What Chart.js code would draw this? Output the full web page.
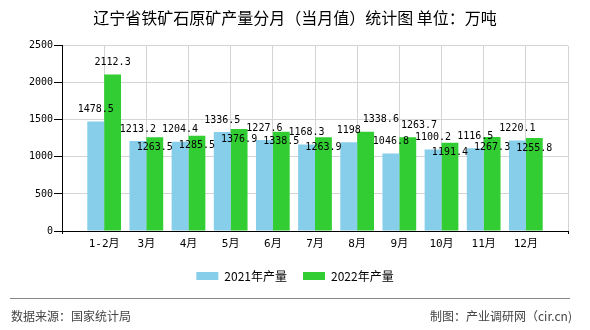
<!DOCTYPE html>
<html>
<head>
<meta charset="utf-8">
<script src="https://cdn.jsdelivr.net/npm/chart.js@4/dist/chart.umd.min.js"></script>
<style>
  html, body { margin: 0; padding: 0; background: #fff; }
  #wrap { width: 590px; height: 330px; }
</style>
</head>
<body>
<div id="wrap"><canvas id="chart" width="590" height="330"></canvas></div>
<script>
// ===== DATA =====
const categories = ['1-2月', '3月', '4月', '5月', '6月', '7月', '8月', '9月', '10月', '11月', '12月'];
const prod2021 = [1478.5, 1213.2, 1204.4, 1336.5, 1227.6, 1168.3, 1198, 1046.8, 1100.2, 1116.5, 1220.1];
const prod2022 = [2112.3, 1263.5, 1285.5, 1376.9, 1338.5, 1263.9, 1338.6, 1263.7, 1191.4, 1267.3, 1255.8];
const yTicks = [0, 500, 1000, 1500, 2000, 2500];

const titleText = '辽宁省铁矿石原矿产量分月（当月值）统计图 单位：万吨';
const sourceText = '数据来源：国家统计局';
const creditText = '制图：产业调研网（cir.cn)';

// ===== STYLE =====
const blue = '#87ceeb';
const green = '#32cd32';
const gridColor = '#d4d4d4';
const monoFont = "'DejaVu Sans Mono', 'Noto Sans CJK SC', monospace";
const cjkFont = "'Noto Sans CJK SC', sans-serif";

// the axis has an empty slot on each side of the months
const labels = ['', ...categories, ''];
const pad = arr => [null, ...arr, null];

// ===== VALUE LABELS =====
// 2021 labels sit above the bar. A 2022 label that would hit another label
// drops inside its bar, or else slides right past the label it hits.
const valueLabels = {
  id: 'valueLabels',
  afterDatasetsDraw(chart) {
    const ctx = chart.ctx;
    ctx.save();
    ctx.font = '10px ' + monoFont;
    ctx.fillStyle = '#000';
    ctx.textAlign = 'center';
    ctx.textBaseline = 'middle';
    const m0 = chart.getDatasetMeta(0).data;
    const m1 = chart.getDatasetMeta(1).data;
    const placed = [];
    const hits = (x, y, w, gap) => placed.find(p =>
      Math.abs(p.x - x) < (p.w + w) / 2 && Math.abs(p.y - y) < gap);

    categories.forEach((c, i) => {
      const b0 = m0[i + 1];
      const t0 = String(prod2021[i]);
      const w0 = ctx.measureText(t0).width;
      ctx.fillText(t0, b0.x, b0.y - 12);
      placed.push({ x: b0.x, y: b0.y - 12, w: w0 });
    });
    categories.forEach((c, i) => {
      const b1 = m1[i + 1];
      const t1 = String(prod2022[i]);
      const w1 = ctx.measureText(t1).width;
      let x1 = b1.x, y1 = b1.y - 12;
      const first = hits(x1, y1, w1, 12);
      if (first) {
        if (!hits(x1, b1.y + 10, w1, 8)) {
          y1 = b1.y + 10;
        } else {
          x1 = first.x + (first.w + w1) / 2 + 2;
        }
      }
      ctx.fillText(t1, x1, y1);
      placed.push({ x: x1, y: y1, w: w1 });
    });
    ctx.restore();
  }
};

// ===== FOOTER =====
const footer = {
  id: 'footer',
  afterDraw(chart) {
    const ctx = chart.ctx;
    ctx.save();
    ctx.strokeStyle = '#888';
    ctx.lineWidth = 1;
    ctx.beginPath();
    ctx.moveTo(10, 298.5);
    ctx.lineTo(570, 298.5);
    ctx.stroke();
    ctx.font = '12px ' + cjkFont;
    ctx.fillStyle = '#444';
    ctx.textBaseline = 'middle';
    ctx.textAlign = 'left';
    ctx.fillText(sourceText, 11, 316);
    ctx.textAlign = 'right';
    ctx.fillText(creditText, 572, 316);
    ctx.restore();
  }
};

new Chart(document.getElementById('chart'), {
  type: 'bar',
  data: {
    labels,
    datasets: [
      { label: '2021年产量', data: pad(prod2021), backgroundColor: blue },
      { label: '2022年产量', data: pad(prod2022), backgroundColor: green }
    ]
  },
  options: {
    responsive: false,
    animation: false,
    devicePixelRatio: 1,
    categoryPercentage: 0.8,
    barPercentage: 1,
    layout: { padding: { left: 22, right: 22, top: 0, bottom: 38 } },
    plugins: {
      title: {
        display: true,
        text: titleText,
        color: '#000',
        font: { family: cjkFont, size: 16, weight: 'normal' },
        padding: { top: 8, bottom: 18.5 }
      },
      legend: {
        position: 'bottom',
        labels: {
          boxWidth: 22,
          boxHeight: 8,
          padding: 16,
          color: '#000',
          font: { family: cjkFont, size: 12 }
        }
      },
      tooltip: { enabled: false }
    },
    scales: {
      x: {
        offset: false,
        grid: {
          offset: false,
          color: gridColor,
          tickLength: 3,
          tickColor: ctx => (ctx.index === 0 || ctx.index === labels.length - 1) ? '#000' : 'rgba(0,0,0,0)'
        },
        border: { color: '#000' },
        ticks: {
          autoSkip: false,
          maxRotation: 0,
          padding: -3,
          color: '#000',
          font: { family: monoFont, size: 11, lineHeight: '26px' }
        }
      },
      y: {
        min: yTicks[0],
        max: yTicks[yTicks.length - 1],
        afterBuildTicks: scale => { scale.ticks = yTicks.map(v => ({ value: v })); },
        afterFit: scale => { scale.width = 40; },
        grid: { color: gridColor, tickColor: '#000', tickLength: 8 },
        border: { color: '#000' },
        ticks: {
          padding: 1,
          color: '#000',
          font: { family: monoFont, size: 10 },
          callback: v => String(v)
        }
      }
    }
  },
  plugins: [valueLabels, footer]
});
</script>
</body>
</html>
